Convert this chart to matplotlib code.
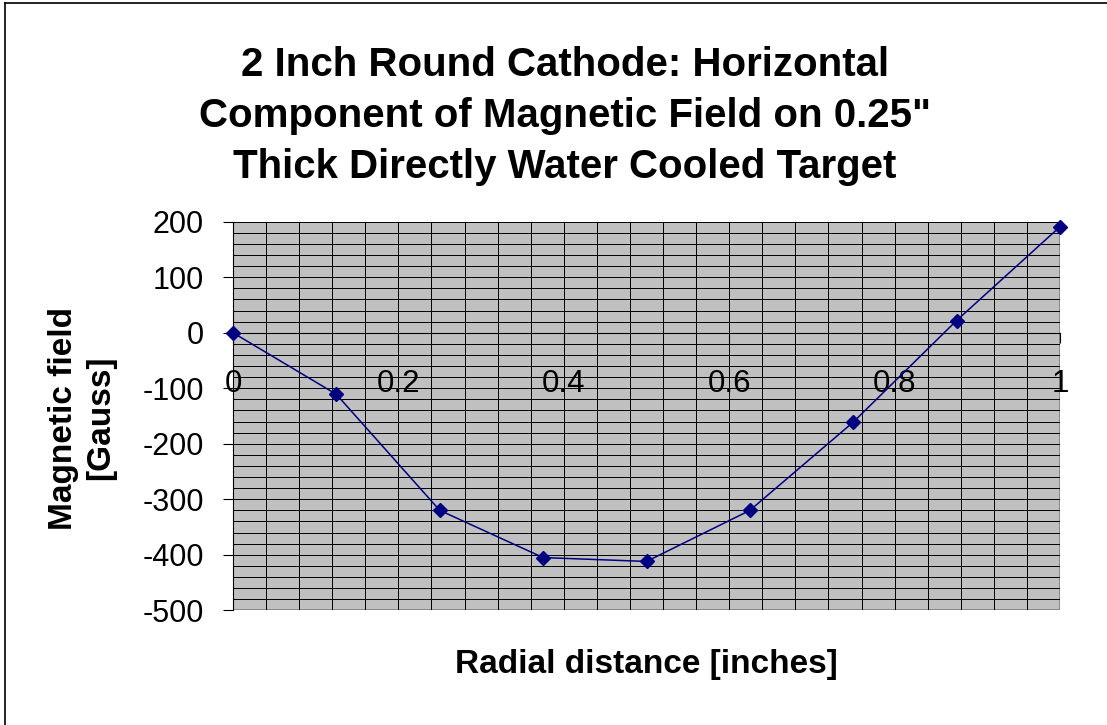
import matplotlib.pyplot as plt
from matplotlib.lines import Line2D
from matplotlib.patches import Rectangle
from matplotlib.ticker import MultipleLocator

plt.rcParams['font.family'] = ['Liberation Sans', 'DejaVu Sans']
plt.rcParams['axes.unicode_minus'] = False

# data
radius = [0, 0.125, 0.25, 0.375, 0.5, 0.625, 0.75, 0.875, 1.0]
field = [0, -111, -320, -405, -412, -320, -161, 22, 191]

title = "2 Inch Round Cathode: Horizontal\nComponent of Magnetic Field on 0.25\"\nThick Directly Water Cooled Target"

fig = plt.figure(figsize=(11.07, 7.25), dpi=100)
ax = fig.add_axes([233 / 1107, 1 - 610.3 / 725, (1060 - 233) / 1107, (610.3 - 221.7) / 725])

ax.set_facecolor('#C0C0C0')
ax.set_xlim(0, 1)
ax.set_ylim(-500, 200)

# grid
ax.xaxis.set_major_locator(MultipleLocator(0.2))
ax.xaxis.set_minor_locator(MultipleLocator(0.04))
ax.yaxis.set_major_locator(MultipleLocator(100))
ax.yaxis.set_minor_locator(MultipleLocator(20))
ax.grid(True, which='both', color='black', linewidth=0.7)
ax.set_axisbelow(True)

ax.plot(radius, field, color='#000080', linewidth=1.1, marker='D',
        markersize=7.5, zorder=5, clip_on=False)

# axes: x axis crosses at zero
ax.spines['bottom'].set_position(('data', 0))
ax.spines['bottom'].set_color('black')
ax.spines['left'].set_color('black')
ax.spines['top'].set_visible(False)
ax.spines['right'].set_visible(False)
ax.add_patch(Rectangle((0, 0), 1, 1, transform=ax.transAxes, fill=False,
                       edgecolor='#808080', linewidth=1.2, zorder=0.5))

ax.tick_params(axis='x', which='major', direction='out', length=7, width=0.8,
               pad=19, labelsize=22.5)
ax.tick_params(axis='y', which='major', direction='out', length=7, width=0.8,
               pad=14, labelsize=22)
ax.tick_params(which='minor', length=0)
ax.set_xticks([0, 0.2, 0.4, 0.6, 0.8, 1.0])
ax.set_xticklabels(['0', '0.2', '0.4', '0.6', '0.8', '1'])

fig.text(0.51, 1 - 116 / 725, title, ha='center', va='center',
         fontsize=29, fontweight='bold', linespacing=1.44)
fig.text(646 / 1107, 1 - 664 / 725, 'Radial distance [inches]', ha='center',
         va='center', fontsize=24, fontweight='bold')
fig.text(82 / 1107, 1 - 418 / 725, 'Magnetic field\n[Gauss]', ha='center',
         va='center', rotation=90, fontsize=24, fontweight='bold',
         linespacing=1.25, multialignment='center')

# outer chart border (left and top edges visible)
fig.add_artist(Line2D([4.5 / 1107, 4.5 / 1107], [0, 1 - 2.5 / 725], color='black', linewidth=1.2))
fig.add_artist(Line2D([4.5 / 1107, 1], [1 - 2.5 / 725, 1 - 2.5 / 725], color='black', linewidth=1.2))

fig.savefig('out.png', dpi=100)
